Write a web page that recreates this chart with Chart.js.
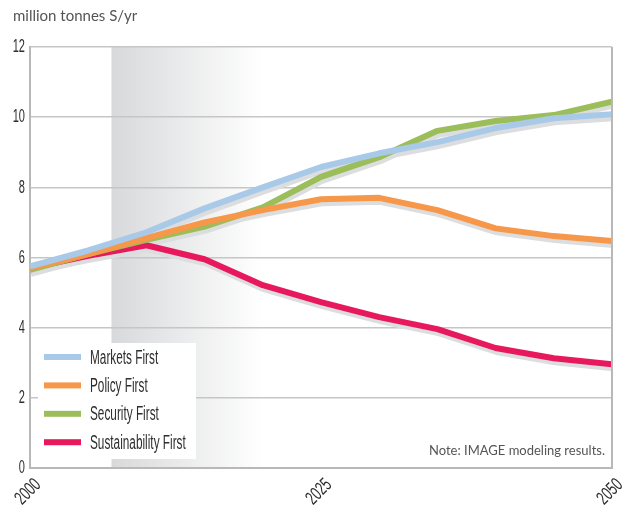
<!DOCTYPE html>
<html>
<head>
<meta charset="utf-8">
<script src="https://cdn.jsdelivr.net/npm/chart.js@4.4.1/dist/chart.umd.min.js"></script>
<style>
  body { margin: 0; background: #fff; }
  canvas { display: block; }
</style>
</head>
<body>
<canvas id="schwefel" width="632" height="514"></canvas>
<script>
// Daten (Stützstellen alle 5 Jahre)
const years = [2000, 2005, 2010, 2015, 2020, 2025, 2030, 2035, 2040, 2045, 2050];
const marketsFirst = [5.75, 6.2, 6.72, 7.4, 8.0, 8.58, 8.97, 9.29, 9.69, 9.97, 10.08];
const policyFirst = [5.7, 6.1, 6.55, 7.0, 7.35, 7.66, 7.7, 7.35, 6.83, 6.61, 6.47];
const securityFirst = [5.65, 6.1, 6.5, 6.88, 7.43, 8.3, 8.86, 9.61, 9.89, 10.06, 10.44];
const sustainabilityFirst = [5.7, 6.05, 6.35, 5.95, 5.21, 4.73, 4.3, 3.96, 3.42, 3.13, 2.96];
const seriesNames = ['Markets First', 'Policy First', 'Security First', 'Sustainability First'];
const xTicks = [2000, 2025, 2050];
const yTicks = [0, 2, 4, 6, 8, 10, 12];

const seriesValues = [marketsFirst, policyFirst, securityFirst, sustainabilityFirst];
const seriesColors = ['#a9c9e9', '#f7974a', '#9bbd5a', '#e8185c'];
const fontFam = "'Liberation Sans', Arial, sans-serif";

// grauer Verlauf (Jahre)
const bandFrom = 2007;
const bandTo = 2020;

const toPoints = vals => vals.map((v, i) => ({ x: years[i], y: v }));

const datasets = [];
seriesValues.forEach((vals, i) => {
  datasets.push({
    label: seriesNames[i],
    data: toPoints(vals),
    borderColor: seriesColors[i],
    borderWidth: 6,
    borderJoinStyle: 'round',
    pointRadius: 0,
    tension: 0,
    order: i
  });
});
seriesValues.forEach((vals, i) => {
  datasets.push({
    label: 'shadow',
    shadow: true,
    data: toPoints(vals),
    borderColor: '#dcdddf',
    borderWidth: 6,
    borderJoinStyle: 'round',
    pointRadius: 0,
    tension: 0,
    order: 10 + i
  });
});

// schmale Schrift: horizontal gestaucht zeichnen
function narrowText(ctx, text, x, y, sx, align, rot) {
  ctx.save();
  ctx.translate(x, y);
  if (rot) ctx.rotate(rot);
  ctx.scale(sx, 1);
  ctx.textAlign = align;
  ctx.fillText(text, 0, 0);
  ctx.restore();
}

const extras = {
  id: 'extras',
  beforeDraw(chart) {
    const { ctx, chartArea: a, scales: { x } } = chart;
    const x0 = x.getPixelForValue(bandFrom);
    const x1 = x.getPixelForValue(bandTo);
    const g = ctx.createLinearGradient(x0, 0, x1, 0);
    g.addColorStop(0, '#d8d9db');
    g.addColorStop(1, 'rgba(255,255,255,1)');
    ctx.save();
    ctx.fillStyle = g;
    ctx.fillRect(x0, a.top, x1 - x0, a.bottom - a.top);
    ctx.restore();
  },
  beforeDatasetDraw(chart, args) {
    if (chart.data.datasets[args.index].shadow) {
      chart.ctx.save();
      chart.ctx.translate(1, 4);
    }
  },
  afterDatasetDraw(chart, args) {
    if (chart.data.datasets[args.index].shadow) chart.ctx.restore();
  },
  afterDraw(chart) {
    const { ctx, chartArea: a, scales: { x, y } } = chart;
    ctx.save();
    // rechter Rahmen
    ctx.strokeStyle = '#b8b8b8';
    ctx.lineWidth = 2;
    ctx.beginPath();
    ctx.moveTo(a.right, a.top);
    ctx.lineTo(a.right, a.bottom);
    ctx.stroke();

    ctx.textBaseline = 'middle';
    ctx.fillStyle = '#2e2e2e';
    ctx.font = "19px " + fontFam;
    // Y-Beschriftung
    y.ticks.forEach(t => {
      narrowText(ctx, String(t.value), a.left - 5, y.getPixelForValue(t.value), 0.58, 'right');
    });
    // X-Beschriftung, 45° gedreht
    x.ticks.forEach(t => {
      narrowText(ctx, String(t.value), x.getPixelForValue(t.value) + 8, a.bottom + 14, 0.66, 'right', -Math.PI / 4);
    });

    // Achsentitel
    ctx.fillStyle = '#555';
    ctx.font = "15px Lato, sans-serif";
    ctx.textAlign = 'left';
    ctx.fillText('million tonnes S/yr', 13, 16);

    // Legende
    ctx.fillStyle = '#fff';
    ctx.fillRect(38, 343, 158, 116);
    ctx.font = "20px " + fontFam;
    seriesNames.forEach((name, i) => {
      const yy = 357 + i * 28.4;
      ctx.fillStyle = seriesColors[i];
      ctx.fillRect(44, yy - 3, 37, 6);
      ctx.fillStyle = '#2e2e2e';
      narrowText(ctx, name, 90, yy + 1, 0.59, 'left');
    });

    // Hinweis
    ctx.fillStyle = '#555';
    ctx.font = "13px Lato, sans-serif";
    ctx.textAlign = 'right';
    ctx.fillText('Note: IMAGE modeling results.', 605, 451);
    ctx.restore();
  }
};

new Chart(document.querySelector('#schwefel'), {
  type: 'line',
  data: { datasets },
  options: {
    responsive: false,
    animation: false,
    layout: { padding: { top: 47, right: 20, left: 0, bottom: 0 } },
    plugins: { legend: { display: false }, tooltip: { enabled: false } },
    scales: {
      x: {
        type: 'linear',
        min: 2000,
        max: 2050,
        afterBuildTicks: s => { s.ticks = xTicks.map(v => ({ value: v })); },
        afterFit: s => { s.height = 46; },
        ticks: { display: false },
        grid: { display: false, drawTicks: false },
        border: { color: '#b8b8b8', width: 2 }
      },
      y: {
        min: 0,
        max: 12,
        afterBuildTicks: s => { s.ticks = yTicks.map(v => ({ value: v })); },
        afterFit: s => { s.width = 30; },
        ticks: { display: false },
        grid: { color: '#c6c6c6', lineWidth: 1.5, drawTicks: false },
        border: { color: '#b8b8b8', width: 2 }
      }
    }
  },
  plugins: [extras]
});
</script>
</body>
</html>
